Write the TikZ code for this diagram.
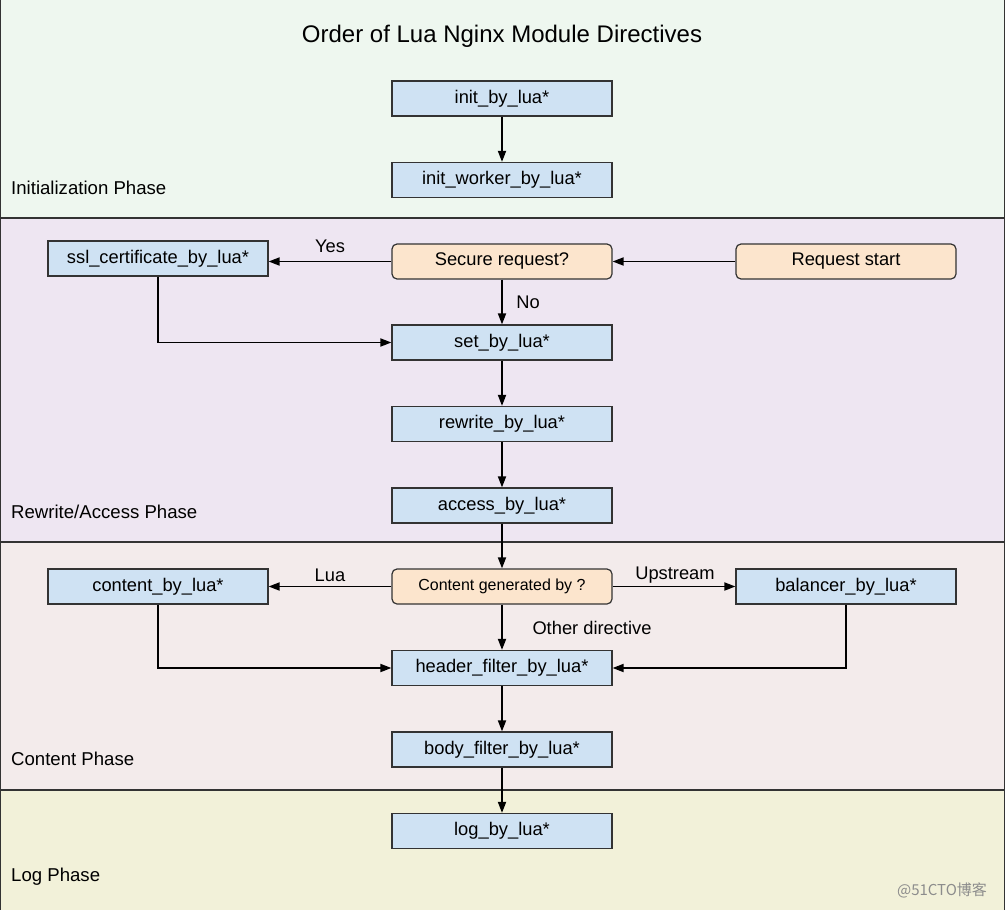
\documentclass[tikz,border=0pt]{standalone}
\usepackage{fontspec}
\setmainfont{Liberation Sans}
\newfontfamily\cjkfont{Noto Sans CJK SC}
\usetikzlibrary{arrows.meta}
\definecolor{bandA}{HTML}{EEF7EF}
\definecolor{bandB}{HTML}{EEE6F2}
\definecolor{bandC}{HTML}{F3EBEB}
\definecolor{bandD}{HTML}{F2F1D9}
\definecolor{boxblue}{HTML}{CFE2F3}
\definecolor{boxorange}{HTML}{FCE5CD}
\definecolor{edgegray}{HTML}{333333}
\tikzset{
  band/.style={draw=edgegray, line width=1.2pt},
  bluebox/.style={draw=edgegray, line width=1.2pt, fill=boxblue, minimum width=220pt, minimum height=35pt, inner sep=0pt, font=\fontsize{18.3}{21}\selectfont},
  orangebox/.style={bluebox, fill=boxorange, rounded corners=5pt},
  conn/.style={line width=1.8pt, -{Triangle[length=11pt,width=8pt]}},
  lbl/.style={font=\fontsize{18.3}{21}\selectfont, inner sep=0pt},
  phase/.style={font=\fontsize{18.6}{21}\selectfont, anchor=west, inner sep=0pt}
}
\begin{document}
\begin{tikzpicture}[x=1pt,y=-1pt]
\useasboundingbox (0,0) rectangle (1005,910);
% bands
\fill[bandA] (0,0) rectangle (1005,218);
\fill[bandB] (0,218) rectangle (1005,542);
\fill[bandC] (0,542) rectangle (1005,790);
\fill[bandD] (0,790) rectangle (1005,910);
\draw[band] (0.6,0) -- (0.6,910);
\draw[band] (1004.4,0) -- (1004.4,910);
\draw[band] (0,218) -- (1005,218);
\draw[band] (0,542) -- (1005,542);
\draw[band] (0,790) -- (1005,790);
% title
\node[font=\fontsize{24}{28}\selectfont] (title) at (502,36) {Order of Lua Nginx Module Directives};
% phase labels
\node[phase] (pinit) at (11,188) {Initialization Phase};
\node[phase] (prew) at (11,512) {Rewrite/Access Phase};
\node[phase] (pcont) at (11,759) {Content Phase};
\node[phase] (plog) at (11,877) {Log Phase};
% nodes
\node[bluebox] (init) at (502,98.5) {\raisebox{-1.5pt}{init\_by\_lua*}};
\node[bluebox] (initw) at (502,180) {\raisebox{-1.5pt}{init\_worker\_by\_lua*}};
\node[bluebox] (ssl) at (158,258.5) {\raisebox{-1.5pt}{ssl\_certificate\_by\_lua*}};
\node[orangebox] (secure) at (502,261.5) {\raisebox{-1.5pt}{Secure request?}};
\node[orangebox] (start) at (846,261.5) {\raisebox{-1.5pt}{Request start}};
\node[bluebox] (set) at (502,342.5) {\raisebox{-1.5pt}{set\_by\_lua*}};
\node[bluebox] (rewrite) at (502,424) {\raisebox{-1.5pt}{rewrite\_by\_lua*}};
\node[bluebox] (access) at (502,505.5) {\raisebox{-1.5pt}{access\_by\_lua*}};
\node[bluebox] (content) at (158,586.5) {\raisebox{-1.5pt}{content\_by\_lua*}};
\node[orangebox, font=\fontsize{16}{19}\selectfont] (gen) at (502,586.5) {\raisebox{-1.5pt}{Content generated by ?}};
\node[bluebox] (balancer) at (846,586.5) {\raisebox{-1.5pt}{balancer\_by\_lua*}};
\node[bluebox] (header) at (502,668) {\raisebox{-1.5pt}{header\_filter\_by\_lua*}};
\node[bluebox] (body) at (502,749.5) {\raisebox{-1.5pt}{body\_filter\_by\_lua*}};
\node[bluebox] (log) at (502,831) {\raisebox{-1.5pt}{log\_by\_lua*}};
% connectors
\draw[conn] (init) -- (initw);
\draw[conn] (start) -- (secure);
\draw[conn] (secure.west) -- (ssl.east |- secure.west);
\draw[conn] (secure) -- (set);
\draw[conn] (ssl.south) |- (set.west);
\draw[conn] (set) -- (rewrite);
\draw[conn] (rewrite) -- (access);
\draw[conn] (access) -- (gen);
\draw[conn] (gen) -- (content);
\draw[conn] (gen) -- (balancer);
\draw[conn] (gen) -- (header);
\draw[conn] (content.south) |- (header.west);
\draw[conn] (balancer.south) |- (header.east);
\draw[conn] (header) -- (body);
\draw[conn] (body) -- (log);
% edge labels
\node[lbl] (yes) at (330,246) {Yes};
\node[lbl] (no) at (528,302) {No};
\node[lbl] (lua) at (330,575) {Lua};
\node[lbl] (up) at (675,575) {Upstream};
\node[lbl] (other) at (592,628) {Other directive};
% watermark
\node[font=\cjkfont\fontsize{15}{18}\selectfont, text=black!45] (wm) at (942,890) {@51CTO博客};
\end{tikzpicture}
\end{document}
